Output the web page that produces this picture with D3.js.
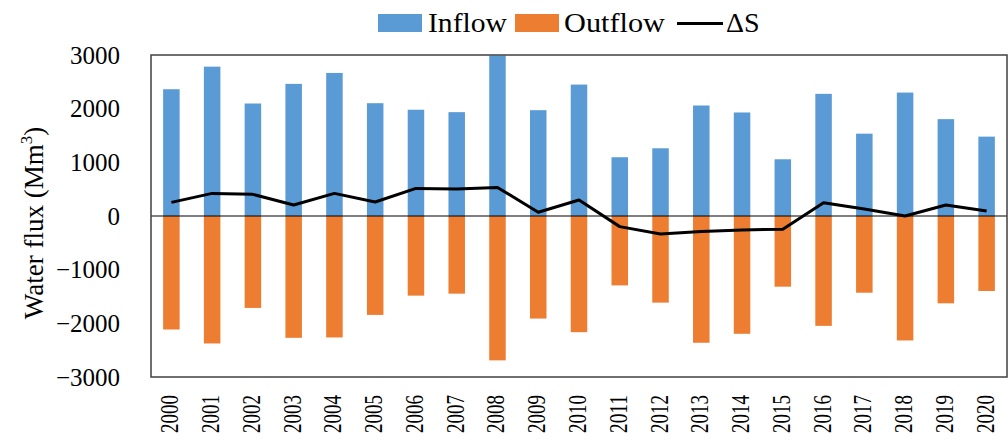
<!DOCTYPE html>
<html>
<head>
<meta charset="utf-8">
<script src="https://cdn.jsdelivr.net/npm/d3@7"></script>
<style>
  body { margin: 0; background: #fff; }
  svg { display: block; font-family: "Liberation Serif", "Times New Roman", serif; }
</style>
</head>
<body>
<svg width="1008" height="443"></svg>
<script>
const years = ["2000","2001","2002","2003","2004","2005","2006","2007","2008","2009","2010",
               "2011","2012","2013","2014","2015","2016","2017","2018","2019","2020"];
const inflow = [2362, 2783, 2096, 2462, 2666, 2102, 1980, 1935, 2990, 1972, 2449,
                1095, 1262, 2059, 1929, 1057, 2276, 1534, 2300, 1805, 1479];
const outflow = [-2115, -2375, -1713, -2270, -2263, -1843, -1484, -1447, -2690, -1911, -2165,
                 -1293, -1614, -2362, -2195, -1317, -2047, -1429, -2319, -1627, -1397];
const deltaS = [254, 421, 403, 204, 421, 260, 514, 501, 532, 69, 297,
                -198, -334, -291, -260, -247, 247, 130, 0, 204, 93];
const yTicks = [-3000, -2000, -1000, 0, 1000, 2000, 3000];

const svg = d3.select("svg");
const plotLeft = 151, plotRight = 1007, plotTop = 55, plotBottom = 377;

const x = d3.scaleBand()
    .domain(years)
    .range([plotLeft, plotRight])
    .paddingInner(0.595)
    .paddingOuter(0.2975);

const y = d3.scaleLinear()
    .domain([-3000, 3000])
    .range([plotBottom, plotTop]);

// bars
svg.append("g").selectAll("rect")
    .data(years)
    .join("rect")
    .attr("x", d => x(d))
    .attr("width", x.bandwidth())
    .attr("y", (d, i) => y(inflow[i]))
    .attr("height", (d, i) => y(0) - y(inflow[i]))
    .attr("fill", "#5b9bd5");

svg.append("g").selectAll("rect")
    .data(years)
    .join("rect")
    .attr("x", d => x(d))
    .attr("width", x.bandwidth())
    .attr("y", y(0))
    .attr("height", (d, i) => y(outflow[i]) - y(0))
    .attr("fill", "#ed7d31");

// zero line
svg.append("line")
    .attr("x1", plotLeft).attr("x2", plotRight)
    .attr("y1", y(0)).attr("y2", y(0))
    .attr("stroke", "#000").attr("stroke-width", 1.2);

// delta S line
const line = d3.line()
    .x((d, i) => x(years[i]) + x.bandwidth() / 2)
    .y(d => y(d));

svg.append("path")
    .datum(deltaS)
    .attr("d", line)
    .attr("fill", "none")
    .attr("stroke", "#000")
    .attr("stroke-width", 3)
    .attr("stroke-linejoin", "round");

// frame
svg.append("rect")
    .attr("x", plotLeft).attr("y", plotTop)
    .attr("width", plotRight - plotLeft).attr("height", plotBottom - plotTop)
    .attr("fill", "none")
    .attr("stroke", "#404040")
    .attr("stroke-width", 1.5);

// y axis labels
const yAxis = svg.append("g")
    .attr("transform", `translate(${plotLeft},0)`)
    .call(d3.axisLeft(y).tickValues(yTicks).tickSize(0).tickPadding(31)
        .tickFormat(d => d < 0 ? "\u2212" + Math.abs(d) : d));
yAxis.select(".domain").remove();
yAxis.selectAll("text")
    .attr("font-family", "Liberation Serif, serif")
    .attr("font-size", 25)
    .attr("fill", "#000");

// x labels
svg.append("g").selectAll("text")
    .data(years)
    .join("text")
    .attr("transform", d => `translate(${x(d) + x.bandwidth() / 2 + 7},395) rotate(-90)`)
    .attr("text-anchor", "end")
    .attr("font-size", 25)
    .attr("textLength", 38)
    .attr("lengthAdjust", "spacingAndGlyphs")
    .text(d => d);

// y title
const yt = svg.append("text")
    .attr("transform", "translate(43,223) rotate(-90)")
    .attr("text-anchor", "middle")
    .attr("font-size", 27);
yt.append("tspan").text("Water flux (Mm");
yt.append("tspan").attr("font-size", 17).attr("dy", -11).text("3");
yt.append("tspan").attr("dy", 11).text(")");

// legend
const legend = svg.append("g");
legend.append("rect").attr("x", 378).attr("y", 14).attr("width", 44).attr("height", 18).attr("fill", "#5b9bd5");
legend.append("text").attr("x", 428).attr("y", 32).attr("font-size", 28).attr("textLength", 79)
    .attr("lengthAdjust", "spacingAndGlyphs").text("Inflow");
legend.append("rect").attr("x", 515).attr("y", 14).attr("width", 44).attr("height", 18).attr("fill", "#ed7d31");
legend.append("text").attr("x", 564).attr("y", 32).attr("font-size", 28).attr("textLength", 101)
    .attr("lengthAdjust", "spacingAndGlyphs").text("Outflow");
legend.append("line").attr("x1", 677).attr("x2", 723).attr("y1", 23.5).attr("y2", 23.5)
    .attr("stroke", "#000").attr("stroke-width", 3);
legend.append("text").attr("x", 726).attr("y", 32).attr("font-size", 28).text("\u0394S");
</script>
</body>
</html>
